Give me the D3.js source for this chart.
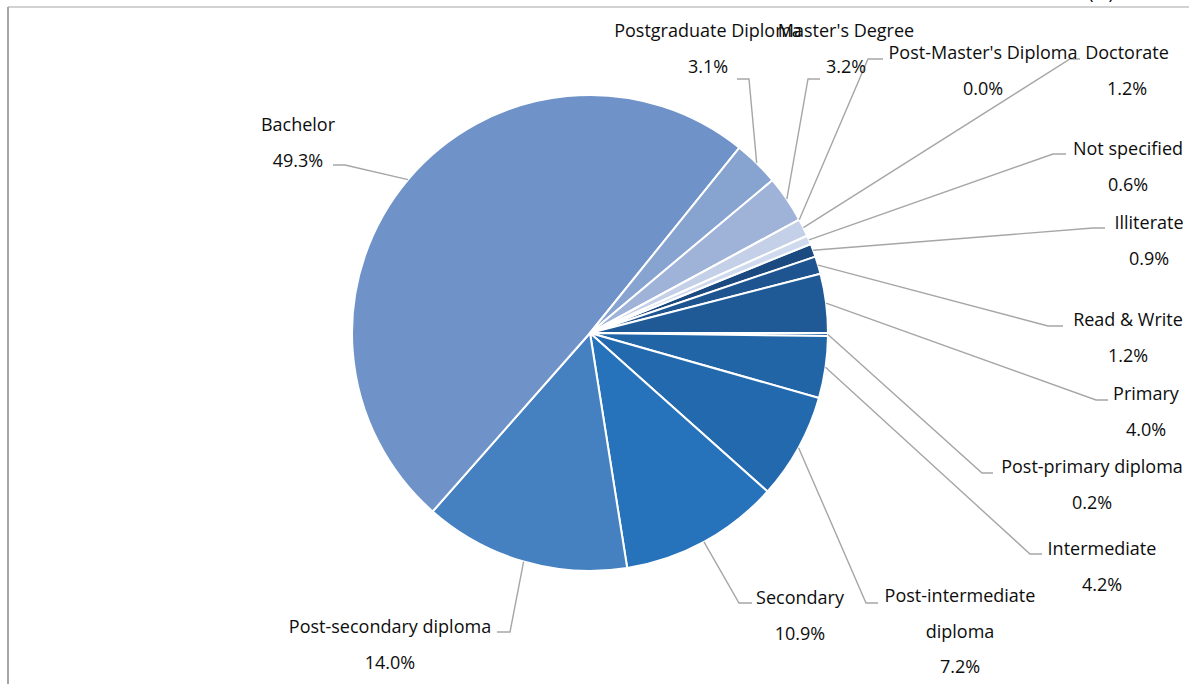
<!DOCTYPE html>
<html>
<head>
<meta charset="utf-8">
<script src="https://cdn.jsdelivr.net/npm/d3@7"></script>
<style>
  html, body { margin: 0; padding: 0; background: #fff; }
  svg { display: block; }
  text { font-family: "Open Sans", "Noto Sans", sans-serif; fill: #0d0d0d; }
</style>
</head>
<body>
<svg id="chart" width="1189" height="684"></svg>
<script>
// ---- Data ----
const categories = [
  "Illiterate", "Read & Write", "Primary", "Post-primary diploma",
  "Intermediate", "Post-intermediate diploma", "Secondary",
  "Post-secondary diploma", "Bachelor", "Postgraduate Diploma",
  "Master's Degree", "Post-Master's Diploma", "Doctorate", "Not specified"
];
const shares = [0.9, 1.2, 4.0, 0.2, 4.2, 7.2, 10.9, 14.0, 49.3, 3.1, 3.2, 0.0, 1.2, 0.6];
const pctLabels = ["0.9%", "1.2%", "4.0%", "0.2%", "4.2%", "7.2%", "10.9%", "14.0%", "49.3%", "3.1%", "3.2%", "0.0%", "1.2%", "0.6%"];

// ---- Styles ----
const sliceColors = [
  "#1a4a7f", "#1e5490", "#1f5a97", "#2060a0", "#2265a6", "#2369ae", "#2672bb",
  "#4580c1", "#6f93c9", "#87a3d0", "#9fb3d9", "#b4c4e2", "#c3d0e8", "#d0daee"
];

// Label layout (name-line centre, leader elbow, end of horizontal tail, line breaks)
const labelLayout = [
  { x: 1149, y: 223, ex: 1093, ey: 228, tx: 1105 },
  { x: 1128, y: 320, ex: 1048, ey: 326, tx: 1063 },
  { x: 1146, y: 394, ex: 1096, ey: 400, tx: 1108 },
  { x: 1092, y: 467, ex: 982,  ey: 473, tx: 993 },
  { x: 1102, y: 549, ex: 1030, ey: 554, tx: 1042 },
  { x: 960,  y: 596, ex: 866,  ey: 603, tx: 878, wrap: 1 },
  { x: 800,  y: 598, ex: 739,  ey: 603, tx: 752 },
  { x: 390,  y: 627, ex: 510,  ey: 632, tx: 497 },
  { x: 298,  y: 125, ex: 345,  ey: 165, tx: 333 },
  { x: 708,  y: 31,  ex: 749,  ey: 79,  tx: 737 },
  { x: 846,  y: 31,  ex: 808,  ey: 79,  tx: 820 },
  { x: 983,  y: 53,  ex: 868,  ey: 59,  tx: 883 },
  { x: 1127, y: 53,  ex: 1070, ey: 59,  tx: 1080 },
  { x: 1128, y: 149, ex: 1053, ey: 154, tx: 1066 }
];

const W = 1189, H = 684;
const cx = 590, cy = 333, R = 238;
const lineGap = 35.5;
const startDeg = 68.04;
const fontSize = "18px";

const svg = d3.select("#chart");

// frame
svg.append("line").attr("x1", 8).attr("y1", 7).attr("x2", W).attr("y2", 7)
  .attr("stroke", "#a6a6a6").attr("stroke-width", 1.2);
svg.append("line").attr("x1", 8).attr("y1", 7).attr("x2", 8).attr("y2", H)
  .attr("stroke", "#a6a6a6").attr("stroke-width", 2);

// cut-off unit text at the very top (as in the reference)
svg.append("text").attr("x", 1101).attr("y", -1).attr("text-anchor", "middle")
  .style("font-size", fontSize).text("(%)");

const data = categories.map((c, i) => ({ name: c, value: shares[i], pct: pctLabels[i], color: sliceColors[i], layout: labelLayout[i] }));

const start = startDeg * Math.PI / 180;
const pie = d3.pie().value(d => d.value).sort(null)
  .startAngle(start).endAngle(start + 2 * Math.PI);
const arcs = pie(data);
const arc = d3.arc().innerRadius(0).outerRadius(R);

const g = svg.append("g").attr("transform", `translate(${cx},${cy})`);
g.selectAll("path.slice").data(arcs).enter().append("path")
  .attr("class", "slice")
  .attr("d", arc)
  .attr("fill", d => d.data.color)
  .attr("stroke", "#fff")
  .attr("stroke-width", 2)
  .attr("stroke-linejoin", "round");

// leader lines
const leaders = svg.append("g");
arcs.forEach(a => {
  const mid = (a.startAngle + a.endAngle) / 2;
  const px = cx + R * Math.sin(mid);
  const py = cy - R * Math.cos(mid);
  const L = a.data.layout;
  leaders.append("polyline")
    .attr("points", `${px},${py} ${L.ex},${L.ey} ${L.tx},${L.ey}`)
    .attr("fill", "none").attr("stroke", "#a6a6a6").attr("stroke-width", 1.4);
});

// labels
const labels = svg.append("g").style("font-size", fontSize);
arcs.forEach(a => {
  const L = a.data.layout;
  let lines;
  if (L.wrap) {
    const words = a.data.name.split(" ");
    lines = [words.slice(0, L.wrap).join(" "), words.slice(L.wrap).join(" ")];
  } else {
    lines = [a.data.name];
  }
  lines.push(a.data.pct);
  lines.forEach((t, k) => {
    labels.append("text")
      .attr("x", L.x).attr("y", L.y + k * lineGap)
      .attr("dy", "0.36em")
      .attr("text-anchor", "middle")
      .text(t);
  });
});
</script>
</body>
</html>
